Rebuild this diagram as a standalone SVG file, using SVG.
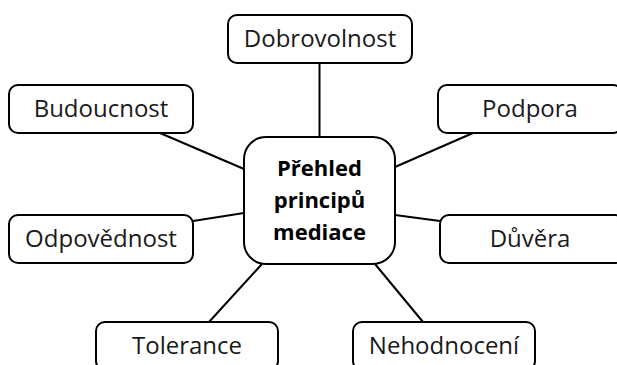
<svg xmlns="http://www.w3.org/2000/svg" width="617" height="365" viewBox="0 0 617 365">
<style>
.box{fill:#fff;stroke:#000;stroke-width:2}
.lbl{font-family:"Open Sans","Liberation Sans",sans-serif;font-size:24px;fill:#1a1a1a;text-anchor:middle}
.ctr{font-family:"Open Sans","Liberation Sans",sans-serif;font-size:22px;font-weight:bold;fill:#000;text-anchor:middle}
.conn line{stroke:#000;stroke-width:2}
</style>
<rect width="617" height="365" fill="#fff"/>
<g id="connectors" class="conn">
<line x1="319.5" y1="63" x2="319.5" y2="137"/>
<line x1="160" y1="133" x2="244" y2="169"/>
<line x1="193" y1="221" x2="244" y2="213"/>
<line x1="262" y1="264" x2="209" y2="322"/>
<line x1="375" y1="264" x2="423" y2="322"/>
<line x1="395" y1="167" x2="473" y2="133"/>
<line x1="395" y1="215" x2="440" y2="221"/>
</g>
<g id="center">
<rect class="box" x="244" y="137" width="151" height="127" rx="22"/>
<text class="ctr" x="319.5" y="176">Přehled</text>
<text class="ctr" x="319.5" y="208">principů</text>
<text class="ctr" x="319.5" y="240">mediace</text>
</g>
<g id="dobrovolnost">
<rect class="box" x="228" y="15" width="184" height="48" rx="9"/>
<text class="lbl" x="320" y="47">Dobrovolnost</text>
</g>
<g id="budoucnost">
<rect class="box" x="9" y="85" width="184" height="48" rx="9"/>
<text class="lbl" x="101" y="117">Budoucnost</text>
</g>
<g id="odpovednost">
<rect class="box" x="9" y="215" width="184" height="48" rx="9"/>
<text class="lbl" x="101" y="247">Odpovědnost</text>
</g>
<g id="tolerance">
<rect class="box" x="96" y="322" width="182" height="48" rx="9"/>
<text class="lbl" x="187" y="354">Tolerance</text>
</g>
<g id="nehodnoceni">
<rect class="box" x="353" y="322" width="182" height="48" rx="9"/>
<text class="lbl" x="444" y="354">Nehodnocení</text>
</g>
<g id="podpora">
<rect class="box" x="438" y="85" width="184" height="48" rx="9"/>
<text class="lbl" x="530" y="117">Podpora</text>
</g>
<g id="duvera">
<rect class="box" x="440" y="215" width="184" height="48" rx="9"/>
<text class="lbl" x="530" y="247">Důvěra</text>
</g>
</svg>
